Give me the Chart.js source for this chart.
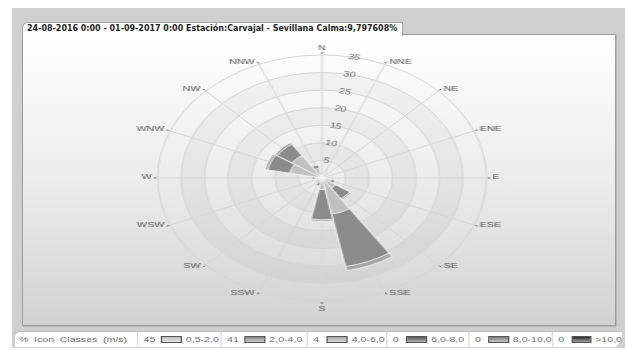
<!DOCTYPE html>
<html>
<head>
<meta charset="utf-8">
<script src="https://cdn.jsdelivr.net/npm/chart.js@4/dist/chart.umd.min.js"></script>
<style>
  html, body { margin: 0; padding: 0; width: 625px; height: 350px; overflow: hidden; background: #fff; }
  #frame { position: absolute; left: 12px; top: 8px; width: 613px; height: 340px; background: #cfcfcf; }
  #panel { position: absolute; left: 22px; top: 34px; width: 592px; height: 290px;
           border: 1px solid #9d9d9d; background: linear-gradient(#ffffff 0%, #ececec 50%, #d2d2d2 100%);
           box-shadow: 1px 1px 0 #b8b8b8; }
  #tab { position: absolute; left: 22px; top: 22px; width: 379px; height: 13px; background: #fff;
         border: 1px solid #a5a5a5; border-bottom: none; border-top-left-radius: 6px; }
  #title { position: absolute; left: 27px; top: 24px; font: bold 8px "DejaVu Sans", sans-serif; color: #1e1e1e;
           white-space: nowrap; transform-origin: 0 0; }
  #legendBar { position: absolute; left: 15px; top: 331px; width: 607px; height: 15px; background: #fff;
               border-top: 1px solid #bdbdbd; border-top-left-radius: 6px;
               clip-path: polygon(0 0, 100% 0, 100% 55%, 99% 100%, 0 100%); }
  #legend { position: absolute; left: 0; top: 0; width: 458px; height: 15px; transform: scaleX(1.3253); transform-origin: 0 0;
            display: flex; align-items: center; font: 8px "Liberation Sans", sans-serif; color: #6e6e6e; white-space: nowrap; }
  #legend .cell { height: 15px; display: flex; align-items: center; box-sizing: border-box; border-left: 1px solid #dcdcdc; }
  #legend .cell:first-child { border-left: none; padding-left: 3px; word-spacing: 2px; }
  #legend .num { padding-left: 4px; min-width: 6px; }
  #legend .box { width: 14px; height: 5px; margin: 0 3px 0 4px; border: 1px solid #555; }
</style>
</head>
<body>
<div id="frame"></div>
<div id="panel"></div>
<div id="tab"></div>
<div id="title"></div>
<canvas id="rose" width="440" height="294"
        style="position:absolute;left:28.3px;top:31px;width:587.4px;height:294px"></canvas>
<div id="legendBar"><div id="legend"></div></div>

<script>
// Wind rose: frequency (%) per direction sector, split by wind speed class.
const titleText = '24-08-2016 0:00 - 01-09-2017 0:00 Estación:Carvajal - Sevillana Calma:9,797608%';

const directions = ['N', 'NNE', 'NE', 'ENE', 'E', 'ESE', 'SE', 'SSE',
                    'S', 'SSW', 'SW', 'WSW', 'W', 'WNW', 'NW', 'NNW'];

const speedClasses = ['0,5-2,0', '2,0-4,0', '4,0-6,0', '6,0-8,0', '8,0-10,0', '>10,0'];

//                 N    NNE  NE   ENE  E    ESE  SE   SSE   S    SSW  SW   WSW  W    WNW  NW   NNW
const freq05to2 = [1.5, 0.6, 0.5, 0.5, 1.0, 2.0, 3.5, 10.5, 3.3, 1.2, 0.8, 0.7, 1.4, 7.0, 7.7, 2.9];
const freq2to4  = [0.3, 0.1, 0.1, 0.1, 0.3, 0.8, 3.6, 15.2, 8.6, 1.1, 0.5, 0.5, 0.7, 4.8, 3.8, 0.9];
const freq4to6  = [0,   0,   0,   0,   0,   0,   0.4, 1.2,  0.5, 0.2, 0,   0,   0.2, 0.6, 0.6, 0.2];
const freq6to8  = [0,   0,   0,   0,   0,   0,   0,   0,    0,   0,   0,   0,   0,   0,   0,   0];
const freq8to10 = [0,   0,   0,   0,   0,   0,   0,   0,    0,   0,   0,   0,   0,   0,   0,   0];
const freqOver10 = [0,  0,   0,   0,   0,   0,   0,   0,    0,   0,   0,   0,   0,   0,   0,   0];

const ringTicks = [5, 10, 15, 20, 25, 30, 35];
const scaleMax = 35;

const classColors = ['#c0c0c0', '#8b8b8b', '#a6a6a6', '#555555', '#7b7b7b', '#2e2e2e'];

const classSeries = [freq05to2, freq2to4, freq4to6, freq6to8, freq8to10, freqOver10];

// The radial scale starts at 11.25° so that the first sector is NNE and every
// sector is centred on its compass direction; rotate the arrays to match.
const rotate = arr => arr.slice(1).concat(arr.slice(0, 1));
const sectorLabels = rotate(directions);

// Stack the classes by drawing cumulative sectors; the innermost class is the
// first dataset, which Chart.js paints last (on top).
const datasets = [];
let running = directions.map(() => 0);
classSeries.forEach((series, k) => {
  running = running.map((v, i) => v + series[i]);
  if (series.some(v => v > 0)) {
    datasets.push({
      label: speedClasses[k],
      data: rotate(running.map(v => +v.toFixed(2))),
      backgroundColor: classColors[k],
      borderColor: 'rgba(245,245,245,0.85)',
      borderWidth: 1
    });
  }
});

const half = Math.PI / directions.length;

// Alternating ring bands, spokes through each direction and small compass ticks.
const roseDecor = {
  id: 'roseDecor',
  beforeDraw(chart) {
    const s = chart.scales.r;
    const ctx = chart.ctx;
    const cx = s.xCenter, cy = s.yCenter;
    ctx.save();
    ctx.fillStyle = 'rgba(0,0,0,0.03)';
    [[5, 10], [15, 20], [25, 30]].forEach(([a, b]) => {
      ctx.beginPath();
      ctx.arc(cx, cy, s.getDistanceFromCenterForValue(b), 0, Math.PI * 2);
      ctx.arc(cx, cy, s.getDistanceFromCenterForValue(a), 0, Math.PI * 2, true);
      ctx.fill();
    });
    ctx.strokeStyle = '#d6d6d6';
    ctx.lineWidth = 1;
    for (let i = 0; i < sectorLabels.length; i++) {
      const p = s.getPointPosition(i, s.drawingArea, half);
      ctx.beginPath();
      ctx.moveTo(cx, cy);
      ctx.lineTo(p.x, p.y);
      ctx.stroke();
    }
    ctx.strokeStyle = '#666';
    for (let i = 0; i < sectorLabels.length; i++) {
      const a = s.getPointPosition(i, s.drawingArea + 1, half);
      const b = s.getPointPosition(i, s.drawingArea + 3, half);
      ctx.beginPath();
      ctx.moveTo(a.x, a.y);
      ctx.lineTo(b.x, b.y);
      ctx.stroke();
    }
    ctx.restore();
  },
  // Compass names sit beside their tick, centred on it vertically.
  afterDraw(chart) {
    const s = chart.scales.r;
    const ctx = chart.ctx;
    ctx.save();
    ctx.font = '8px "Liberation Sans", sans-serif';
    ctx.fillStyle = '#555';
    sectorLabels.forEach((name, i) => {
      const p = s.getPointPosition(i, s.drawingArea + 2, half);
      const deg = Math.round(((i + 1) * 22.5) % 360);
      if (deg === 0) {
        ctx.textAlign = 'center'; ctx.textBaseline = 'bottom';
        ctx.fillText(name, p.x, p.y - 1);
      } else if (deg === 180) {
        ctx.textAlign = 'center'; ctx.textBaseline = 'top';
        ctx.fillText(name, p.x, p.y + 2);
      } else if (deg < 180) {
        ctx.textAlign = 'left'; ctx.textBaseline = 'middle';
        ctx.fillText(name, p.x + 2.5, p.y - 1);
      } else {
        ctx.textAlign = 'right'; ctx.textBaseline = 'middle';
        ctx.fillText(name, p.x - 2.5, p.y - 1);
      }
    });
    ctx.restore();
  }
};

new Chart(document.getElementById('rose'), {
  type: 'polarArea',
  data: { labels: sectorLabels, datasets },
  options: {
    responsive: false,
    animation: false,
    devicePixelRatio: 1,
    layout: { padding: 20 },
    plugins: { legend: { display: false }, tooltip: { enabled: false } },
    scales: {
      r: {
        min: 0,
        max: scaleMax,
        startAngle: 11.25,
        afterBuildTicks: s => { s.ticks = [0, ...ringTicks].map(v => ({ value: v })); },
        ticks: {
          z: 1,
          showLabelBackdrop: false,
          backdropPadding: 0,
          color: '#6a6a6a',
          font: { family: 'Liberation Sans', size: 8 },
          callback: v => String(v)
        },
        grid: { circular: true, color: '#d4d4d4', lineWidth: 1 },
        angleLines: { display: false },
        pointLabels: { display: false }
      }
    }
  },
  plugins: [roseDecor]
});

// Title tab text
const title = document.getElementById('title');
title.textContent = titleText;
title.style.transform = 'scaleX(' + (370 / title.offsetWidth) + ')';

// Bottom legend: percentage of time in each speed class
const legend = document.getElementById('legend');
const cellWidths = [92, 63, 65, 60, 62, 63, 53];
const head = document.createElement('div');
head.className = 'cell';
head.style.width = cellWidths[0] + 'px';
head.textContent = '% Icon Classes (m/s)';
legend.appendChild(head);
speedClasses.forEach((name, k) => {
  const total = Math.round(classSeries[k].reduce((a, b) => a + b, 0));
  const cell = document.createElement('div');
  cell.className = 'cell';
  cell.style.width = cellWidths[k + 1] + 'px';
  const num = document.createElement('span');
  num.className = 'num';
  num.textContent = total;
  const box = document.createElement('span');
  box.className = 'box';
  box.style.background = 'linear-gradient(' + classColors[k] + ', #fff 180%)';
  const lab = document.createElement('span');
  lab.textContent = name;
  cell.append(num, box, lab);
  legend.appendChild(cell);
});
</script>
</body>
</html>
